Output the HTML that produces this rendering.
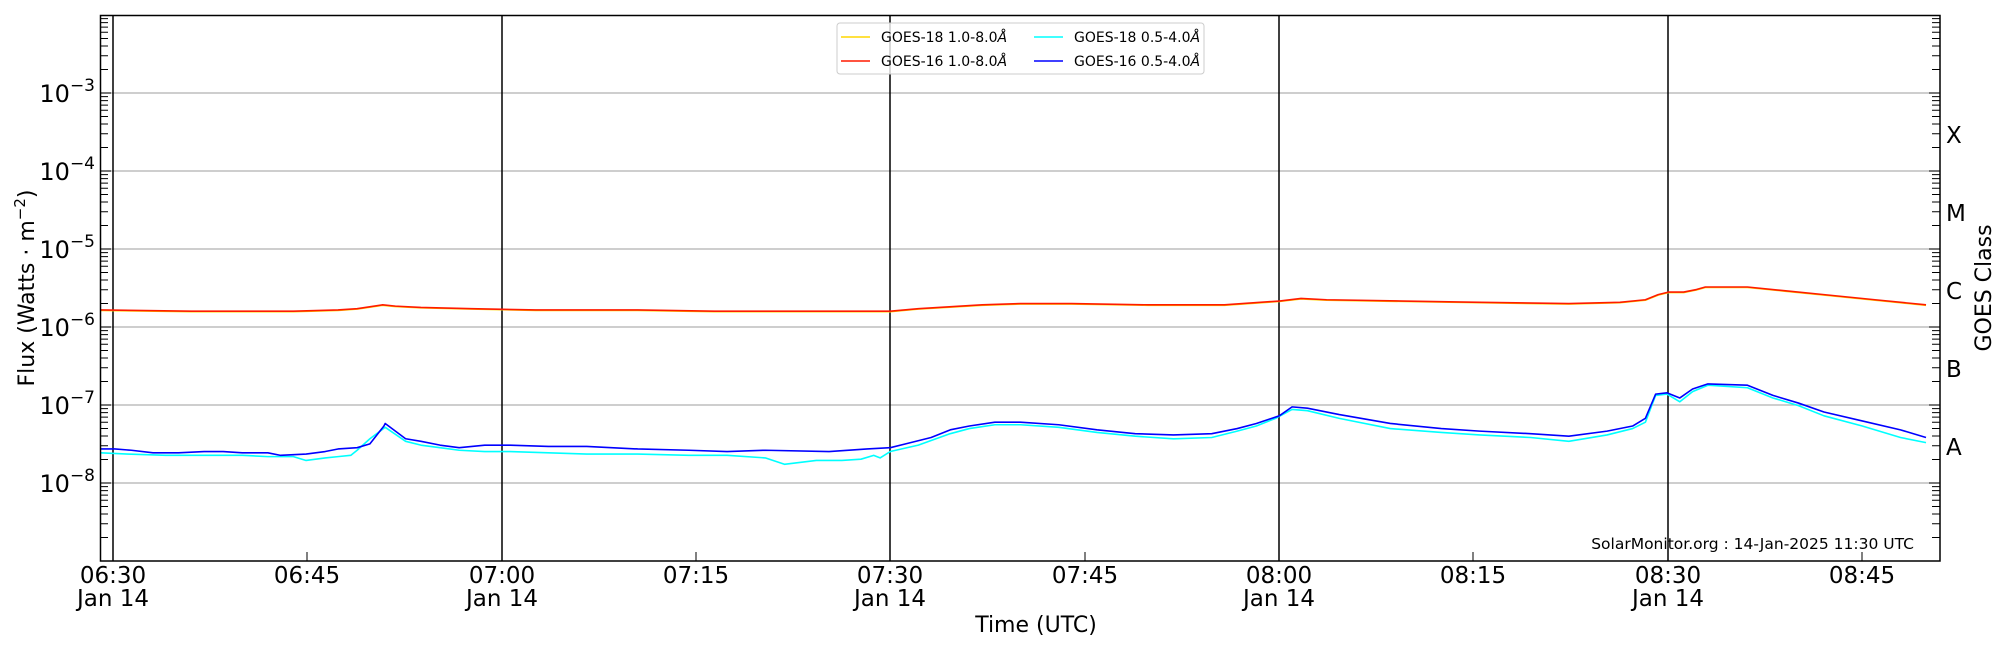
<!DOCTYPE html>
<html><head><meta charset="utf-8"><style>
html,body{margin:0;padding:0;background:#fff;}
svg{display:block;font-family:"DejaVu Sans","Liberation Sans",sans-serif;}
</style></head><body>
<svg width="2000" height="650" viewBox="0 0 2000 650" xmlns="http://www.w3.org/2000/svg" xmlns:xlink="http://www.w3.org/1999/xlink">
<rect width="2000" height="650" fill="#fff"/>
<g stroke="#b0b0b0" stroke-width="1.2">
<line x1="100" x2="1940" y1="93" y2="93"/><line x1="100" x2="1940" y1="171" y2="171"/>
<line x1="100" x2="1940" y1="249" y2="249"/><line x1="100" x2="1940" y1="327" y2="327"/>
<line x1="100" x2="1940" y1="405" y2="405"/><line x1="100" x2="1940" y1="483" y2="483"/>
</g>
<g stroke="#000" stroke-width="1.5">
<line x1="113" x2="113" y1="15" y2="561"/><line x1="502" x2="502" y1="15" y2="561"/>
<line x1="890" x2="890" y1="15" y2="561"/><line x1="1279" x2="1279" y1="15" y2="561"/>
<line x1="1668" x2="1668" y1="15" y2="561"/>
</g>
<defs>
<path id="lt" stroke="#000" stroke-width="1" fill="none" d="M100,93h11M100,69.5h8M100,55.8h8M100,46h8M100,38.5h8M100,32.3h8M100,27.1h8M100,22.6h8M100,18.6h8
M100,171h11M100,147.5h8M100,133.8h8M100,124h8M100,116.5h8M100,110.3h8M100,105.1h8M100,100.6h8M100,96.6h8
M100,249h11M100,225.5h8M100,211.8h8M100,202h8M100,194.5h8M100,188.3h8M100,183.1h8M100,178.6h8M100,174.6h8
M100,327h11M100,303.5h8M100,289.8h8M100,280h8M100,272.5h8M100,266.3h8M100,261.1h8M100,256.6h8M100,252.6h8
M100,405h11M100,381.5h8M100,367.8h8M100,358h8M100,350.5h8M100,344.3h8M100,339.1h8M100,334.6h8M100,330.6h8
M100,483h11M100,459.5h8M100,445.8h8M100,436h8M100,428.5h8M100,422.3h8M100,417.1h8M100,412.6h8M100,408.6h8
M100,537.5h8M100,523.8h8M100,514h8M100,506.5h8M100,500.3h8M100,495.1h8M100,490.6h8M100,486.6h8"/>
</defs>
<use xlink:href="#lt" href="#lt"/>
<use xlink:href="#lt" href="#lt" transform="translate(2040,0) scale(-1,1)"/>
<g stroke="#000" stroke-width="1">
<line x1="307" x2="307" y1="561" y2="552"/><line x1="696" x2="696" y1="561" y2="552"/>
<line x1="1085" x2="1085" y1="561" y2="552"/><line x1="1473" x2="1473" y1="561" y2="552"/>
<line x1="1862" x2="1862" y1="561" y2="552"/>
</g>
<g transform="scale(1.2755)" fill="none" stroke-linejoin="round">
<polyline vector-effect="non-scaling-stroke" stroke="#ffd700" stroke-width="1.5" points="79,243.4 150,244.4 230,244.4 265,243.4 280,242.4 300,239.4 310,240.4 330,241.4 370,242.4 420,243.4 500,243.4 560,244.4 698,244.4 720,242.4 770,239.4 800,238.4 840,238.4 900,239.4 960,239.4 1003,236.4 1020,234.4 1040,235.4 1100,236.4 1160,237.4 1230,238.4 1270,237.4 1290,235.4 1300,231.4 1308,229.4 1320,229.4 1330,227.4 1337,225.4 1370,225.4 1400,228.4 1430,231.4 1470,235.4 1510,239.4"/>
<polyline vector-effect="non-scaling-stroke" stroke="#ff1a00" stroke-width="1.6" points="79,243 150,244 230,244 265,243 280,242 300,239 310,240 330,241 370,242 420,243 500,243 560,244 698,244 720,242 770,239 800,238 840,238 900,239 960,239 1003,236 1020,234 1040,235 1100,236 1160,237 1230,238 1270,237 1290,235 1300,231 1308,229 1320,229 1330,227 1337,225 1370,225 1400,228 1430,231 1470,235 1510,239"/>
<polyline vector-effect="non-scaling-stroke" stroke="#00ffff" stroke-width="1.6" points="79,355 100,356 130,357 160,357 190,357 210,358 230,358 240,361 255,359 265,358 275,357 280,353 290,344 302,335 318,346 330,349 345,351 360,353 380,354 400,354 430,355 460,356 500,356 540,357 570,357 600,359 615,364 640,361 660,361 675,360 685,357 690,359 698,354 720,349 745,340 760,336 780,333 800,333 830,335 860,339 890,342 920,344 950,343 970,338 985,334 1000,328 1013,321 1025,322 1050,328 1090,336 1130,339 1160,341 1200,343 1230,346 1260,341 1280,336 1290,331 1298,310 1307,309 1317,315 1327,307 1339,302 1370,304 1390,312 1410,318 1430,326 1460,334 1490,343 1510,347"/>
<polyline vector-effect="non-scaling-stroke" stroke="#0000ff" stroke-width="1.6" points="79,352 90,352 103,353 120,355 140,355 160,354 175,354 190,355 210,355 220,357 240,356 255,354 265,352 280,351 290,348 301,334 302,332 318,344 330,346 345,349 360,351 370,350 380,349 400,349 430,350 460,350 500,352 540,353 570,354 600,353 650,354 680,352 698,351 710,348 730,343 745,337 760,334 780,331 800,331 830,333 860,337 890,340 920,341 950,340 970,336 985,332 1003,326 1013,319 1025,320 1050,325 1090,332 1130,336 1160,338 1200,340 1230,342 1260,338 1280,334 1290,328 1298,309 1307,308 1317,312 1327,305 1339,301 1370,302 1390,310 1410,316 1430,323 1460,330 1490,337 1510,343"/>
</g>
<rect x="100.5" y="15.5" width="1839.5" height="545.5" fill="none" stroke="#000" stroke-width="1.5"/>
<rect x="837" y="23" width="367" height="51" rx="3" fill="#fff" fill-opacity="0.8" stroke="#ccc" stroke-width="1"/>
<g stroke-width="1.5">
<line x1="841" x2="870" y1="37" y2="37" stroke="#ffd700"/>
<line x1="841" x2="870" y1="61" y2="61" stroke="#ff1a00"/>
<line x1="1034" x2="1063" y1="37" y2="37" stroke="#00ffff"/>
<line x1="1034" x2="1063" y1="61" y2="61" stroke="#0000ff"/>
</g>
<g font-size="14" fill="#000">
<text x="881" y="42">GOES-18 1.0-8.0<tspan font-style="italic">Å</tspan></text>
<text x="881" y="66">GOES-16 1.0-8.0<tspan font-style="italic">Å</tspan></text>
<text x="1074" y="42">GOES-18 0.5-4.0<tspan font-style="italic">Å</tspan></text>
<text x="1074" y="66">GOES-16 0.5-4.0<tspan font-style="italic">Å</tspan></text>
</g>
<g font-size="24" fill="#000" text-anchor="end">
<text x="95" y="102">10<tspan font-size="17" dy="-11">−3</tspan></text>
<text x="95" y="180">10<tspan font-size="17" dy="-11">−4</tspan></text>
<text x="95" y="258">10<tspan font-size="17" dy="-11">−5</tspan></text>
<text x="95" y="336">10<tspan font-size="17" dy="-11">−6</tspan></text>
<text x="95" y="414">10<tspan font-size="17" dy="-11">−7</tspan></text>
<text x="95" y="492">10<tspan font-size="17" dy="-11">−8</tspan></text>
</g>
<text transform="translate(34,288) rotate(-90)" text-anchor="middle" font-size="22">Flux (Watts · m<tspan font-size="15" dy="-9">−2</tspan><tspan dy="9">)</tspan></text>
<g font-size="23" fill="#000">
<text x="1946" y="143">X</text><text x="1946" y="221">M</text>
<text x="1946" y="299">C</text><text x="1946" y="377">B</text><text x="1946" y="455">A</text>
</g>
<text transform="translate(1991,288) rotate(-90)" text-anchor="middle" font-size="22">GOES Class</text>
<g font-size="23" fill="#000" text-anchor="middle">
<text x="113" y="583">06:30</text><text x="113" y="606">Jan 14</text>
<text x="307" y="583">06:45</text>
<text x="502" y="583">07:00</text><text x="502" y="606">Jan 14</text>
<text x="696" y="583">07:15</text>
<text x="890" y="583">07:30</text><text x="890" y="606">Jan 14</text>
<text x="1085" y="583">07:45</text>
<text x="1279" y="583">08:00</text><text x="1279" y="606">Jan 14</text>
<text x="1473" y="583">08:15</text>
<text x="1668" y="583">08:30</text><text x="1668" y="606">Jan 14</text>
<text x="1862" y="583">08:45</text>
</g>
<text x="1036" y="632" text-anchor="middle" font-size="22">Time (UTC)</text>
<text x="1914" y="549" text-anchor="end" font-size="15.5">SolarMonitor.org : 14-Jan-2025 11:30 UTC</text>
</svg>
</body></html>
